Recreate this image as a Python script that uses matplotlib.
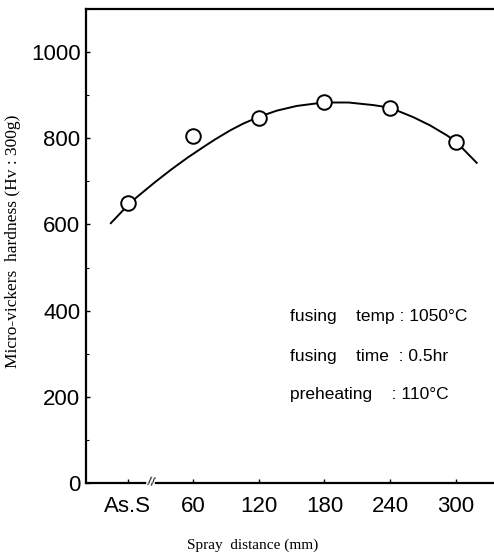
import matplotlib
matplotlib.use('Agg')
import matplotlib.pyplot as plt
from matplotlib.ticker import MultipleLocator

# Measured points (As.S placed at 0 on the distance axis)
distance = [0, 60, 120, 180, 240, 300]
hardness = [650, 806, 847, 885, 871, 791]

# Fitted curve
curve_x = [-15.3, 1.2, 9.7, 25.0, 40.2, 55.4, 70.7, 79.8, 93.6, 105.7, 120.4,
           136.3, 154.6, 175.9, 183.6, 201.9, 224.7, 239.9, 261.2, 276.5,
           291.8, 300.3, 319.2]
curve_y = [603, 647, 666, 698, 728, 756, 782, 797, 818, 834, 850,
           864, 875, 882, 883, 883, 877, 871, 849, 830,
           807, 792, 743]

xtick_pos = [0, 60, 120, 180, 240, 300]
xtick_labels = ['As.S', '60', '120', '180', '240', '300']
ytick_pos = [0, 200, 400, 600, 800, 1000]

notes = ['fusing    temp : 1050°C', 'fusing    time  : 0.5hr', 'preheating    : 110°C']

sans = ['Liberation Sans', 'DejaVu Sans']
serif = ['Liberation Serif', 'DejaVu Serif']

fig = plt.figure(figsize=(4.94, 5.59), dpi=100)
ax = fig.add_axes([86 / 494, 1 - 483 / 559, 1 - 86 / 494, (483 - 9) / 559])

ax.plot(curve_x, curve_y, color='black', linewidth=1.4)
ax.plot(distance, hardness, 'o', markersize=10.5, markerfacecolor='white',
        markeredgecolor='black', markeredgewidth=1.4)

ax.set_xlim(-38, 335)
ax.set_ylim(0, 1100)

ax.set_xticks(xtick_pos)
ax.set_xticklabels(xtick_labels, family=sans, fontsize=16)
ax.set_yticks(ytick_pos)
ax.set_yticklabels([str(v) for v in ytick_pos], family=sans, fontsize=16)
ax.yaxis.set_minor_locator(MultipleLocator(100))
ax.tick_params(direction='in', length=3, width=1, pad=4)
ax.tick_params(which='minor', direction='in', length=2, width=0.8)
ax.tick_params(axis='x', pad=9)

ax.spines['right'].set_visible(False)
for s in ['left', 'top', 'bottom']:
    ax.spines[s].set_linewidth(1.6)

# axis break mark between As.S and 60
ax.text(21, 0, '//', ha='center', va='center', fontsize=9, family=sans,
        rotation=-10, bbox=dict(facecolor='white', edgecolor='none', pad=0.5))

for t, yy in zip(notes, [0.351, 0.266, 0.186]):
    ax.text(0.5, yy, t, transform=ax.transAxes, va='center',
            family=sans, fontsize=12.5)

fig.text(13 / 494, 1 - 241 / 559, 'Micro-vickers  hardness (Hv : 300g)',
         rotation=90, ha='center', va='center', family=serif, fontsize=12.5)
fig.text(253 / 494, 1 - 545 / 559, 'Spray  distance (mm)',
         ha='center', va='center', family=serif, fontsize=11)

fig.savefig('out.png', dpi=100)
